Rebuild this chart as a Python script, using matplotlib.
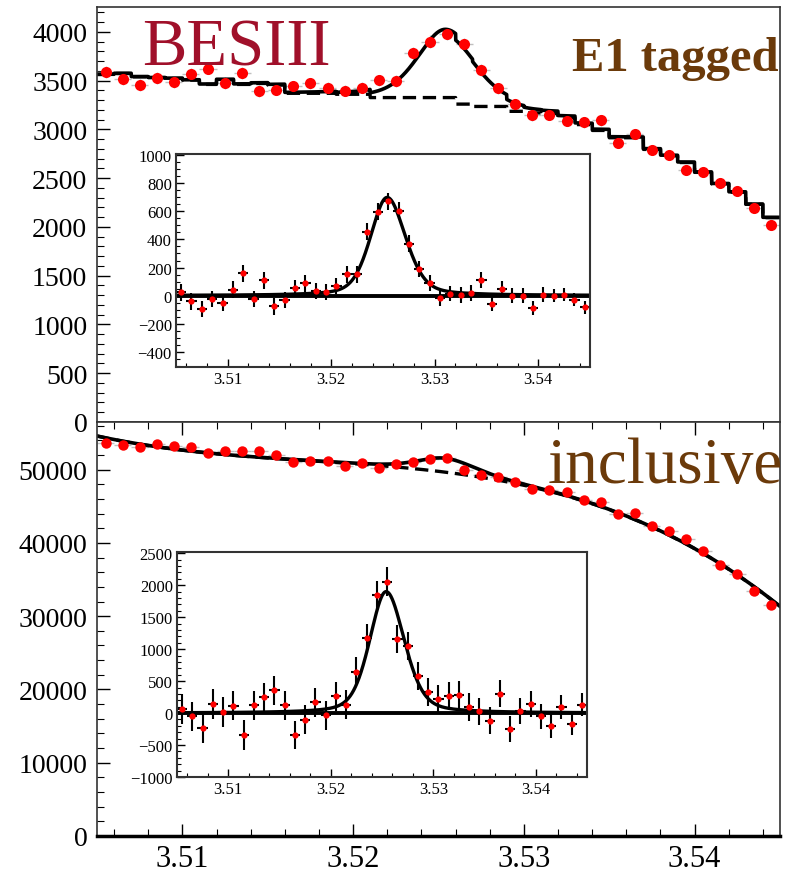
import numpy as np
import matplotlib.pyplot as plt
from matplotlib.ticker import MultipleLocator

plt.rcParams['font.family'] = ['Liberation Serif', 'DejaVu Serif']

# binning (1 MeV bins from 3.505 to 3.545 GeV)
x_lo, x_hi = 3.505, 3.545
bin_width = 0.001
bin_centers = np.arange(x_lo + bin_width / 2, x_hi, bin_width)

# E1-tagged sample: counts, fitted background (MC-shape histogram), background-subtracted
tagged_counts = [3591, 3516, 3455, 3530, 3483, 3567, 3625, 3476, 3577, 3395,
                 3409, 3442, 3473, 3429, 3398, 3429, 3503, 3496, 3787, 3902,
                 3980, 3878, 3608, 3422, 3260, 3145, 3151, 3090, 3074, 3094,
                 2864, 2955, 2786, 2735, 2583, 2567, 2448, 2374, 2198, 2019]
tagged_bkg = [3564, 3574, 3540, 3530, 3523, 3506, 3462, 3510, 3462, 3472,
              3455, 3371, 3371, 3371, 3361, 3361, 3327, 3327, 3327, 3327,
              3327, 3260, 3236, 3236, 3186, 3170, 3165, 3120, 3050, 2990,
              2915, 2915, 2796, 2730, 2661, 2560, 2442, 2357, 2232, 2096]
tagged_resid = [24, -41, -96, -24, -53, 43, 158, -24, 108, -77,
                -33, 55, 86, 31, 24, 67, 151, 151, 455, 598,
                672, 605, 371, 191, 86, -17, 14, 2, 19, 110,
                -57, 50, 0, 0, -89, 7, 0, 7, -29, -84]

# inclusive sample: counts and background-subtracted
incl_counts = [53632, 53360, 53088, 53497, 53179, 53042, 52270, 52588, 52497, 52497,
               51999, 50999, 51226, 51226, 50545, 50908, 50182, 50773, 51091, 51454,
               51545, 49955, 49274, 48956, 48366, 47367, 47276, 46912, 45913, 45641,
               43961, 44052, 42281, 41555, 40464, 38830, 36923, 35788, 33381, 31565]
incl_resid = [68, -53, -237, 142, 16, 116, -342, 121, 247, 358,
              121, -342, -105, 168, -37, 263, 132, 647, 1168, 1842,
              2053, 1158, 1053, 579, 332, 226, 263, 284, 95, 26,
              -121, 300, -247, 26, 142, -53, -195, 95, -168, 132]

# fitted h_c line shape
peak_mass = 3.5254
hwhm_left = 0.0019
hwhm_right = 0.0021
lorentz_frac = 0.35
tagged_amp = 700
incl_amp = 1900

red = '#ff0000'
brown = '#6b3a0a'


def line_shape(x, amp):
    h = np.where(x < peak_mass, hwhm_left, hwhm_right)
    d = (x - peak_mass) / h
    return amp * ((1 - lorentz_frac) * np.exp(-np.log(2) * d ** 2) + lorentz_frac / (1 + d ** 2))


xf = np.linspace(x_lo, x_hi, 4001)
ibin = np.clip(((xf - x_lo) / bin_width).astype(int), 0, len(bin_centers) - 1)
tagged_bkg_f = np.array(tagged_bkg)[ibin]
tagged_tot_f = tagged_bkg_f + line_shape(xf, tagged_amp)

incl_counts = np.array(incl_counts)
incl_bkg_pts = incl_counts - np.array(incl_resid)
coef = np.polyfit(bin_centers - 3.525, incl_bkg_pts, 3)
incl_bkg_f = np.polyval(coef, xf - 3.525)
incl_tot_f = incl_bkg_f + line_shape(xf, incl_amp)

tagged_counts = np.array(tagged_counts)


def style_axes(ax, lab_size, major_len, minor_len):
    ax.tick_params(which='both', direction='in', top=False, right=False)
    ax.tick_params(which='major', length=major_len, width=1, labelsize=lab_size)
    ax.tick_params(which='minor', length=minor_len, width=0.8)
    for s in ax.spines.values():
        s.set_linewidth(1.2)
        s.set_color('#333333')


fig = plt.figure(figsize=(7.87, 8.79), dpi=100)

# ---- top: E1 tagged ----
ax1 = fig.add_axes([0.1233, 0.5188, 0.8678, 0.4721])
ax1.errorbar(bin_centers, tagged_counts, xerr=bin_width / 2, yerr=np.sqrt(tagged_counts),
             fmt='none', ecolor='#c0c0c0', elinewidth=1)
ax1.plot(xf, tagged_bkg_f, color='black', lw=2.4, ls=(0, (4, 2)))
ax1.plot(xf, tagged_tot_f, color='black', lw=2.6)
ax1.plot(bin_centers, tagged_counts, 'o', color=red, ms=8, mec='none')
ax1.set_xlim(x_lo, x_hi)
ax1.set_ylim(0, 4256)
ax1.yaxis.set_major_locator(MultipleLocator(500))
ax1.yaxis.set_minor_locator(MultipleLocator(100))
ax1.xaxis.set_major_locator(MultipleLocator(0.01))
ax1.xaxis.set_minor_locator(MultipleLocator(0.002))
style_axes(ax1, 20, 9, 5)
ax1.tick_params(axis='x', which='both', bottom=False, labelbottom=False)
ax1.tick_params(axis='y', pad=7)

# ---- bottom: inclusive ----
ax2 = fig.add_axes([0.1233, 0.0478, 0.8678, 0.4710])
ax2.errorbar(bin_centers, incl_counts, xerr=bin_width / 2, yerr=np.sqrt(incl_counts),
             fmt='none', ecolor='#c0c0c0', elinewidth=1)
ax2.plot(xf, incl_bkg_f, color='black', lw=2.4, ls=(0, (4, 2)))
ax2.plot(xf, incl_tot_f, color='black', lw=2.6)
ax2.plot(bin_centers, incl_counts, 'o', color=red, ms=7.5, mec='none')
ax2.set_xlim(x_lo, x_hi)
ax2.set_ylim(0, 56500)
ax2.yaxis.set_major_locator(MultipleLocator(10000))
ax2.yaxis.set_minor_locator(MultipleLocator(2000))
ax2.xaxis.set_major_locator(MultipleLocator(0.01))
ax2.xaxis.set_minor_locator(MultipleLocator(0.002))
ax2.xaxis.set_major_formatter(lambda v, p: f'{v:.2f}')
style_axes(ax2, 20, 9, 5)
ax2.tick_params(axis='x', which='both', top=True)
ax2.tick_params(axis='y', pad=7)
ax2.tick_params(axis='x', labelsize=22, pad=6)
ax2.spines['bottom'].set_linewidth(2.5)
ax2.spines['bottom'].set_color('black')


# ---- insets ----
def draw_inset(rect, resid, counts, amp, ylim, major, minor):
    ax = fig.add_axes(rect)
    ax.axhline(0, color='black', lw=2.8)
    ax.plot(xf, line_shape(xf, amp), color='black', lw=2.4)
    ax.errorbar(bin_centers, resid, xerr=bin_width / 2, yerr=np.sqrt(counts),
                fmt='o', color=red, ms=4.5, mec='none', ecolor='black', elinewidth=1.5)
    ax.set_xlim(x_lo, x_hi)
    ax.set_ylim(*ylim)
    ax.yaxis.set_major_locator(MultipleLocator(major))
    ax.yaxis.set_minor_locator(MultipleLocator(minor))
    ax.xaxis.set_major_locator(MultipleLocator(0.01))
    ax.xaxis.set_minor_locator(MultipleLocator(0.002))
    ax.xaxis.set_major_formatter(lambda v, p: f'{v:.2f}')
    style_axes(ax, 12, 6, 3)
    ax.tick_params(pad=3)
    for s in ax.spines.values():
        s.set_linewidth(1.5)
    return ax


draw_inset([0.2236, 0.5813, 0.5261, 0.2424], tagged_resid, tagged_counts,
           tagged_amp, (-510, 1010), 200, 50)
draw_inset([0.2249, 0.1149, 0.5210, 0.2560], incl_resid, incl_counts,
           incl_amp, (-1000, 2520), 500, 100)

# ---- labels ----
fig.text(0.301, 0.925, 'BESIII', color='#a0102a', fontsize=48, ha='center', va='baseline')
fig.text(0.858, 0.919, 'E1 tagged', color=brown, fontsize=35, fontweight='bold',
         ha='center', va='baseline')
fig.text(0.845, 0.4505, 'inclusive', color=brown, fontsize=47, ha='center', va='baseline')

fig.savefig('out.png', dpi=100)
